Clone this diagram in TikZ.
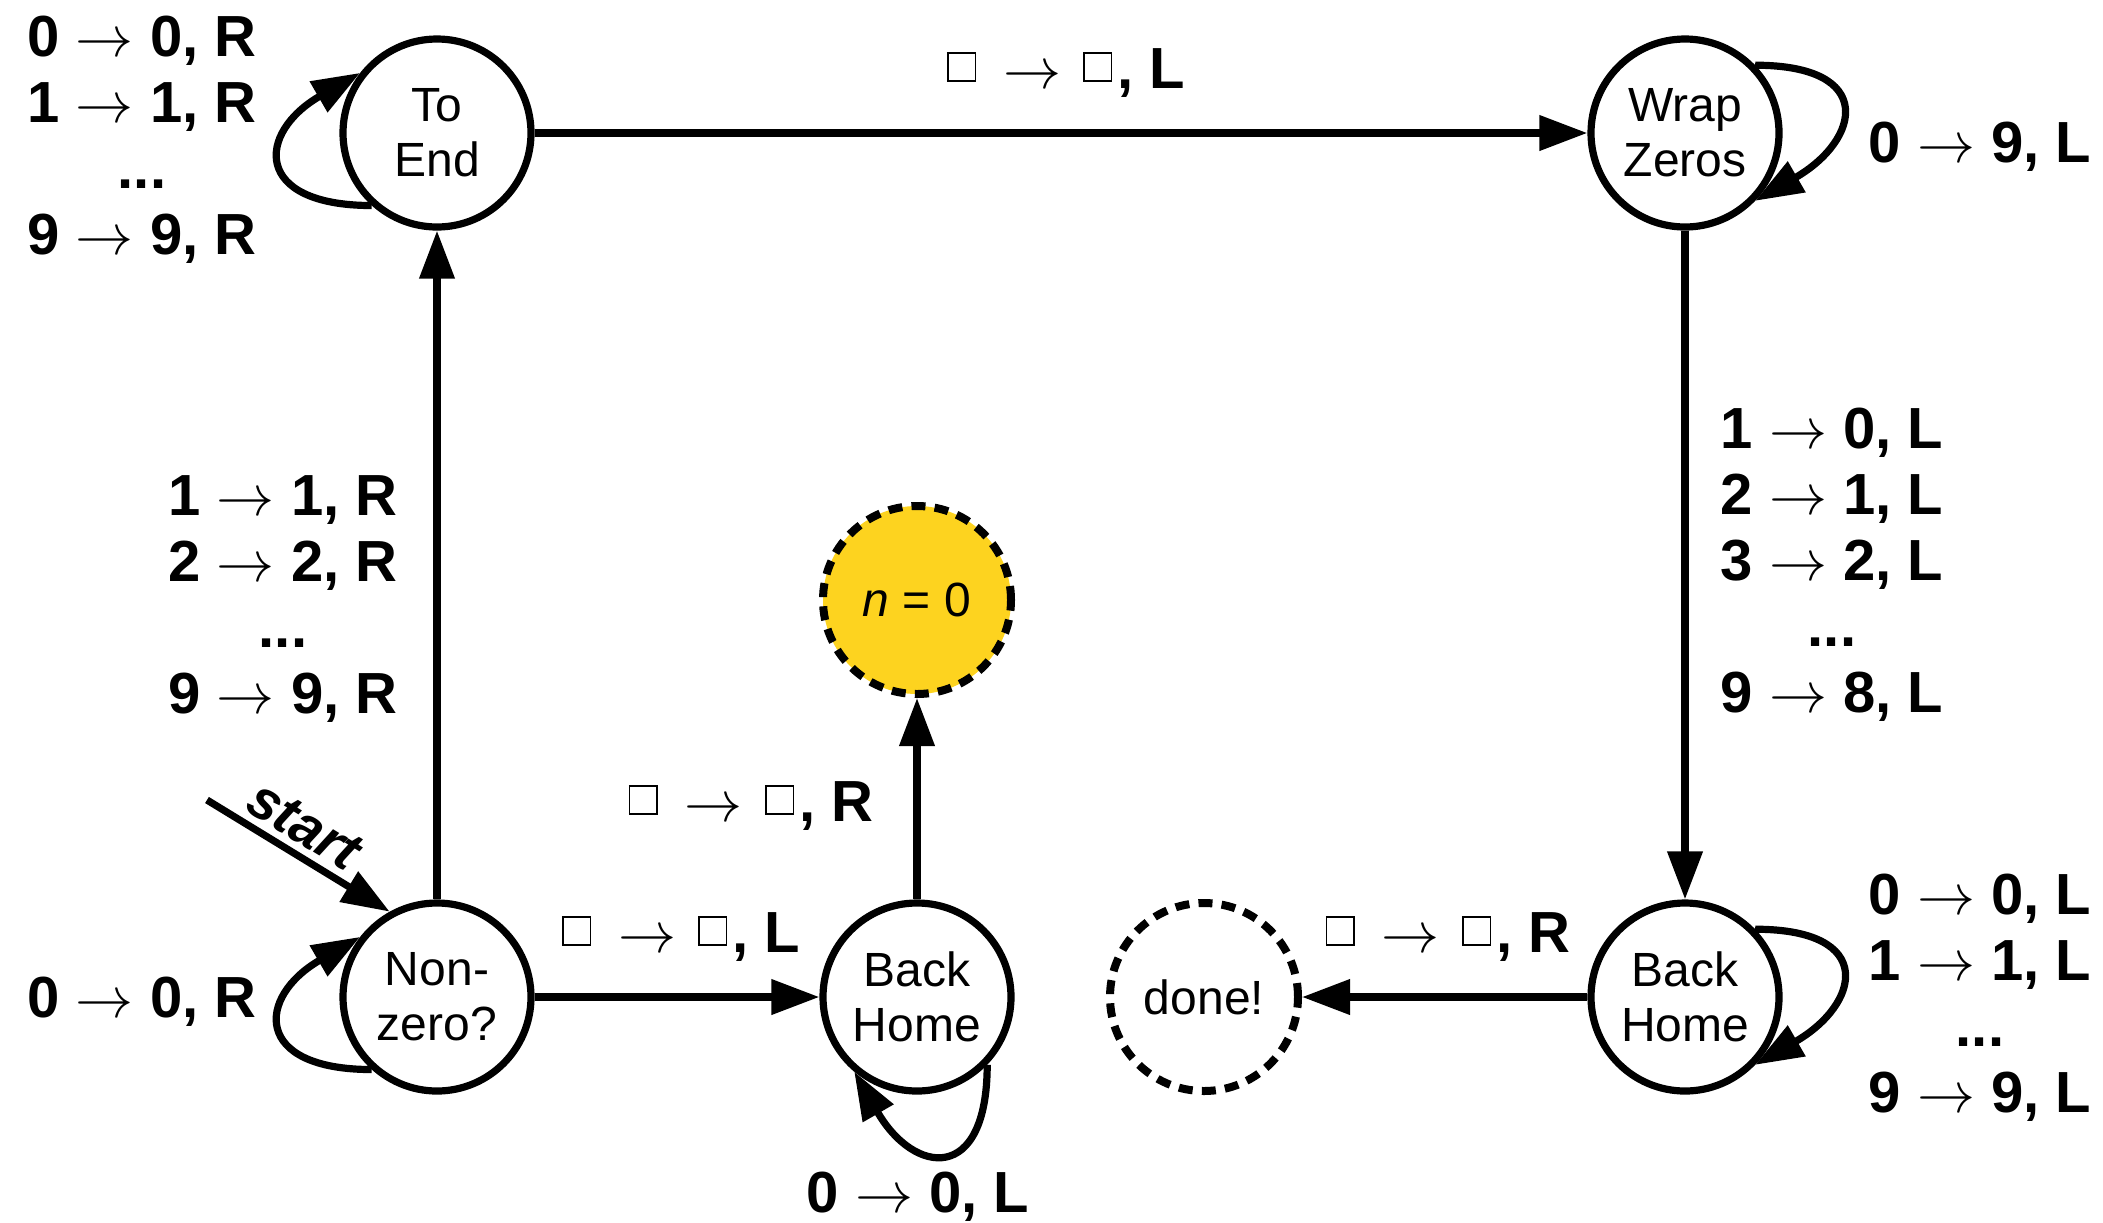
\RequirePackage{fix-cm}
\documentclass[tikz,border=0pt]{standalone}
\usepackage{fontspec}
\setmainfont{Liberation Sans}
\usetikzlibrary{arrows.meta}
\definecolor{gold}{RGB}{253,211,31}
\newcommand\blk{\raisebox{4pt}{\setlength\fboxsep{0pt}\setlength\fboxrule{0.8pt}\fbox{\rule{0pt}{13pt}\hspace{13pt}}}\hspace{2.5pt}}
\newcommand\tto{$\rightarrow$}
\begin{document}
\begin{tikzpicture}[x=1pt,y=1pt,
  state/.style={circle, draw, line width=3.6pt, minimum size=94pt, inner sep=0pt, align=center, font=\fontsize{24}{27.5}\selectfont},
  dstate/.style={state, line width=4pt, dash pattern=on 7pt off 4.6pt},
  lbl/.style={font=\fontsize{29}{33}\selectfont\bfseries, inner sep=0pt, align=center},
  edge/.style={line width=3.6pt, -{Triangle[length=24pt,width=17pt]}},
]
\useasboundingbox (0,0) rectangle (1051.5,-611);
% states
\node[state] (te) at (218.5,-66.5) {To\\End};
\node[state] (wz) at (842.5,-66.5) {Wrap\\Zeros};
\node[state] (nz) at (218.5,-498.5) {Non-\\zero?};
\node[state] (bh1) at (458.5,-498.5) {Back\\Home};
\node[dstate, fill=gold] (n0) at (458.5,-300) {\textit{n} = 0};
\node[dstate] (done) at (602,-498.5) {done!};
\node[state] (bh2) at (842.5,-498.5) {Back\\Home};
\coordinate (st) at (103.5,-400);
% straight edges
\draw[edge] (nz) -- (te);
\draw[edge] (te) -- (wz);
\draw[edge] (wz) -- (bh2);
\draw[edge] (bh2) -- (done);
\draw[edge] (nz) -- (bh1);
\draw[edge] (bh1) -- (n0);
\draw[edge] (st) -- node[sloped, above, pos=0.45, inner sep=3.5pt, font=\fontsize{28}{32}\selectfont\bfseries\itshape] (stl) {start} (nz.119);
% loops
\draw[edge] (te.228) to[out=180,in=210,looseness=2.3] (te.142);
\draw[edge] (nz.228) to[out=180,in=210,looseness=2.3] (nz.142);
\draw[edge] (wz.44) to[out=0,in=30,looseness=2.3] (wz.316);
\draw[edge] (bh2.44) to[out=0,in=30,looseness=2.3] (bh2.316);
\draw[edge] (bh1.316) to[out=270,in=300,looseness=2.3] (bh1.230);
% labels
\node[lbl] (l1) at (71,-70) {0 \tto{} 0, R\\1 \tto{} 1, R\\...\\9 \tto{} 9, R};
\node[lbl, anchor=base] (l2) at (533,-44) {\blk\hspace{11pt}\tto\hspace{11pt}\blk, L};
\node[lbl, anchor=base] (l3) at (990,-81) {0 \tto{} 9, L};
\node[lbl] (l4) at (916,-282.5) {1 \tto{} 0, L\\2 \tto{} 1, L\\3 \tto{} 2, L\\...\\9 \tto{} 8, L};
\node[lbl] (l5) at (141.5,-299.5) {1 \tto{} 1, R\\2 \tto{} 2, R\\...\\9 \tto{} 9, R};
\node[lbl, anchor=base] (l6) at (71,-508.5) {0 \tto{} 0, R};
\node[lbl, anchor=base] (l7) at (340.5,-476) {\blk\hspace{11pt}\tto\hspace{11pt}\blk, L};
\node[lbl, anchor=base] (l8) at (375.5,-410.5) {\blk\hspace{11pt}\tto\hspace{11pt}\blk, R};
\node[lbl, anchor=base] (l9) at (459,-606) {0 \tto{} 0, L};
\node[lbl, anchor=base] (l10) at (724,-476) {\blk\hspace{11pt}\tto\hspace{11pt}\blk, R};
\node[lbl] (l11) at (990,-499) {0 \tto{} 0, L\\1 \tto{} 1, L\\...\\9 \tto{} 9, L};
\end{tikzpicture}
\end{document}
